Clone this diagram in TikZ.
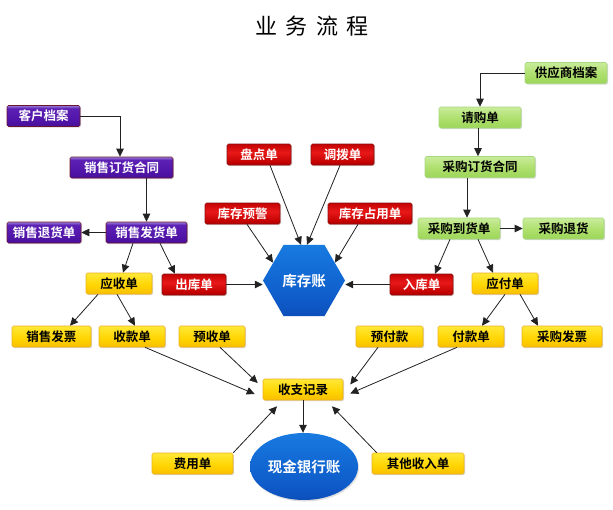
\documentclass[tikz,border=0pt]{standalone}
\usepackage{fontspec}
\setmainfont{Noto Sans CJK SC}[BoldFont={Noto Sans CJK SC Bold}]
\usetikzlibrary{arrows.meta,shapes.geometric,shadows,calc}
\definecolor{pbd}{HTML}{6B1530}
\definecolor{rbd}{HTML}{8A1010}
\definecolor{gbd}{HTML}{A8D880}
\definecolor{ybd}{HTML}{EDB020}
\definecolor{lnc}{HTML}{222222}
\definecolor{pa}{HTML}{3A0A86}\definecolor{pb}{HTML}{5014A8}\definecolor{pc}{HTML}{5C20B4}\definecolor{pd}{HTML}{A08ADC}\definecolor{pe}{HTML}{C4B8EA}
\definecolor{ra}{HTML}{6E0000}\definecolor{rb}{HTML}{BE0000}\definecolor{rc}{HTML}{E81818}\definecolor{rd}{HTML}{BE0000}\definecolor{re}{HTML}{8C0000}
\definecolor{ga}{HTML}{88CC40}\definecolor{gb}{HTML}{B0E070}\definecolor{gc}{HTML}{E2F8C4}
\definecolor{ya}{HTML}{F2A400}\definecolor{yb}{HTML}{FFD400}\definecolor{yc}{HTML}{FFEC40}\definecolor{yd}{HTML}{FFF8A0}
\definecolor{ba}{HTML}{0A3296}\definecolor{bb}{HTML}{0E5AC8}\definecolor{bc}{HTML}{1676DE}\definecolor{bd}{HTML}{2890E8}
\pgfdeclareverticalshading{purpsh}{100bp}{color(0bp)=(pa); color(40bp)=(pb); color(68bp)=(pc); color(76bp)=(pd); color(100bp)=(pe)}
\pgfdeclareverticalshading{redsh}{100bp}{color(0bp)=(ra); color(30bp)=(rb); color(55bp)=(rc); color(78bp)=(rd); color(100bp)=(re)}
\pgfdeclareverticalshading{greensh}{100bp}{color(0bp)=(ga); color(50bp)=(gb); color(100bp)=(gc)}
\pgfdeclareverticalshading{yelsh}{100bp}{color(0bp)=(ya); color(45bp)=(yb); color(80bp)=(yc); color(100bp)=(yd)}
\pgfdeclareverticalshading{bluesh}{100bp}{color(0bp)=(ba); color(35bp)=(bb); color(70bp)=(bc); color(100bp)=(bd)}
\tikzset{
  box/.style={rectangle,rounded corners=1.5pt,inner sep=0pt,minimum height=21pt,
    font=\fontsize{12.5}{13}\selectfont\bfseries,line width=0.6pt,
    drop shadow={shadow xshift=1pt,shadow yshift=-1pt,opacity=0.3,fill=gray}},
  pbox/.style={box,draw=pbd,shading=purpsh,text=white},
  rbox/.style={box,draw=rbd,shading=redsh,text=white},
  gbox/.style={box,draw=gbd,shading=greensh,text=black},
  ybox/.style={box,draw=ybd,shading=yelsh,text=black},
  conn/.style={draw=lnc,line width=0.8pt,-{Triangle[width=7.5pt,length=8pt]}},
}
\begin{document}
\begin{tikzpicture}[x=1pt,y=-1pt]
\fill[white] (0,0) rectangle (613,509);
\useasboundingbox (0,0) rectangle (613,509);
\node (title) at (312,26) {\fontsize{22}{24}\selectfont 业\hspace{8.5pt}务\hspace{8.5pt}流\hspace{8.5pt}程};
% purple
\node[pbox,minimum width=73pt] (kehu) at (43.5,116) {客户档案};
\node[pbox,minimum width=103pt] (xsht) at (121.5,167.5) {销售订货合同};
\node[pbox,minimum width=74pt] (xsth) at (44,232.5) {销售退货单};
\node[pbox,minimum width=81pt] (xsfh) at (146.5,232.5) {销售发货单};
% red
\node[rbox,minimum width=64pt] (pandian) at (259,154.5) {盘点单};
\node[rbox,minimum width=63pt] (diaobo) at (342.5,154.5) {调拨单};
\node[rbox,minimum width=75pt] (kcyj) at (242.5,213.5) {库存预警};
\node[rbox,minimum width=84pt] (kczy) at (370,213.5) {库存占用单};
\node[rbox,minimum width=64pt] (chuku) at (194,284.5) {出库单};
\node[rbox,minimum width=63pt] (ruku) at (421.5,284.5) {入库单};
\node[regular polygon,regular polygon sides=6,minimum size=82pt,inner sep=0pt,shading=bluesh,
  text=white,font=\fontsize{14.5}{15}\selectfont\bfseries] (hex) at (304,280.5) {库存账};
% green
\node[gbox,minimum width=82pt] (gys) at (566,73) {供应商档案};
\node[gbox,minimum width=82pt] (qgd) at (480,117.5) {请购单};
\node[gbox,minimum width=110pt] (cght) at (480,167) {采购订货合同};
\node[gbox,minimum width=82pt] (cgdh) at (459,228.5) {采购到货单};
\node[gbox,minimum width=81pt] (cgth) at (563.5,228.5) {采购退货};
% yellow
\node[ybox,minimum width=66pt] (ysd) at (119,283.5) {应收单};
\node[ybox,minimum width=79pt] (xsfp) at (51.5,336.5) {销售发票};
\node[ybox,minimum width=66pt] (skd) at (132,336.5) {收款单};
\node[ybox,minimum width=66pt] (ysdan) at (212,336.5) {预收单};
\node[ybox,minimum width=66pt] (yfd) at (505,283.5) {应付单};
\node[ybox,minimum width=67pt] (yfk) at (389.5,336.5) {预付款};
\node[ybox,minimum width=66pt] (fkd) at (471,336.5) {付款单};
\node[ybox,minimum width=80pt] (cgfp) at (562,336.5) {采购发票};
\node[ybox,minimum width=80pt] (szjl) at (303,389.5) {收支记录};
\node[ybox,minimum width=81pt] (fyd) at (192.5,463.5) {费用单};
\node[ybox,minimum width=92pt] (qtsr) at (418,463.5) {其他收入单};
\node[ellipse,minimum width=108pt,minimum height=67pt,inner sep=0pt,shading=bluesh,
  text=white,font=\fontsize{14.5}{15}\selectfont\bfseries,
  drop shadow={shadow xshift=1pt,shadow yshift=-1.5pt,opacity=0.25,fill=gray}] (ell) at (304,466.5) {现金银行账};
% connectors left
\draw[conn] (kehu.east) -| ($(xsht.north)+(-1.5,0)$);
\draw[conn] (xsht.south -| xsfh.north) -- (xsfh.north);
\draw[conn] (xsfh.west) -- (xsth.east);
\draw[conn] ($(xsfh.south)+(-13.5,0)$) -- ($(ysd.north)+(4,0)$);
\draw[conn] ($(xsfh.south)+(13.5,0)$) -- ($(chuku.north)+(-19,0)$);
\draw[conn] ($(ysd.south)+(-21,0)$) -- ($(xsfp.north)+(18.5,0)$);
\draw[conn] ($(ysd.south)+(-2,0)$) -- ($(skd.north)+(3,0)$);
\draw[conn] (chuku.east) -- (chuku.east -| hex.west);
% red to hex
\draw[conn] ($(pandian.south)+(11,0)$) -- ($(hex.north)+(-3,0)$);
\draw[conn] ($(diaobo.south)+(-2.5,0)$) -- ($(hex.north)+(3,0)$);
\draw[conn] ($(kcyj.south)+(4.5,0)$) -- (hex.150);
\draw[conn] ($(kczy.south)+(-12,0)$) -- (hex.30);
\draw[conn] (ruku.west) -- (ruku.west -| hex.east);
% right
\draw[conn] (gys.west) -| (qgd.north);
\draw[conn] ($(qgd.south)+(-2,0)$) -- ($(cght.north)+(-2,0)$);
\draw[conn] ($(cght.south)+(-13,0)$) -- ($(cgdh.north)+(8,0)$);
\draw[conn] (cgdh.east) -- (cgth.west);
\draw[conn] ($(cgdh.south)+(-9,0)$) -- ($(ruku.north)+(13.5,0)$);
\draw[conn] ($(cgdh.south)+(19,0)$) -- ($(yfd.north)+(-12,0)$);
\draw[conn] (yfd.south) -- ($(fkd.north)+(11,0)$);
\draw[conn] ($(yfd.south)+(15,0)$) -- ($(cgfp.north)+(-24,0)$);
% to szjl
\draw[conn] ($(skd.south)+(13,0)$) -- ($(szjl.west)+(-8,4.5)$);
\draw[conn] ($(ysdan.south)+(8,0)$) -- ($(szjl.west)+(-5,-6.5)$);
\draw[conn] ($(yfk.south)+(-11.5,0)$) -- ($(szjl.east)+(7,-5)$);
\draw[conn] ($(fkd.south)+(-14,0)$) -- ($(szjl.east)+(7,4)$);
\draw[conn] (szjl.south) -- (szjl.south |- ell.north);
\draw[conn] (fyd.north east) -- ($(szjl.south)+(-26,6)$);
\draw[conn] ($(qtsr.north west)+(5,0)$) -- ($(szjl.south)+(29,6)$);
\end{tikzpicture}
\end{document}
